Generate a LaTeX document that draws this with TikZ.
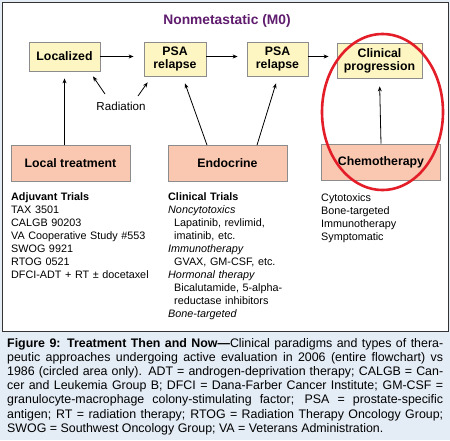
\documentclass[tikz,border=0pt]{standalone}
\usepackage{fontspec}
\setmainfont{Liberation Sans}
\usetikzlibrary{arrows.meta,calc}

\definecolor{capblue}{RGB}{228,236,245}
\definecolor{boxyellow}{RGB}{253,246,194}
\definecolor{boxsalmon}{RGB}{250,200,177}
\definecolor{boxgray}{RGB}{140,140,140}
\definecolor{titlepurple}{RGB}{96,28,110}
\definecolor{ringred}{RGB}{228,30,40}

\tikzset{
  stagebox/.style={draw=boxgray,fill=boxyellow,line width=0.8,inner sep=0,align=center,
    font=\bfseries\fontsize{12.3}{13}\selectfont},
  therapybox/.style={draw=boxgray,fill=boxsalmon,line width=0.8,inner sep=0,align=center,
    minimum width=119,minimum height=36,font=\bfseries\fontsize{12.3}{13}\selectfont},
  flow/.style={-{Stealth[length=5pt,width=4pt]},line width=0.8},
  trials/.style={anchor=base west,inner sep=0,align=left,text width=140,
    font=\fontsize{10.8}{13}\selectfont}
}

\begin{document}
\begin{tikzpicture}[x=1pt,y=1pt,yscale=-1]
\useasboundingbox (0,0) rectangle (450,440);

% background and panel
\fill [capblue] (0,0) rectangle (450,440);
\draw [fill=white,draw=black!80,line width=0.9] (2,2) rectangle (448,331);

% title
\node (title) at (227,21) [text=titlepurple,font=\bfseries\fontsize{13.8}{15}\selectfont] {Nonmetastatic (M0)};

% stages
\node (loc) at (64.5,56.5) [stagebox,minimum width=71,minimum height=29] {Localized};
\node (psaA) at (175,59) [stagebox,minimum width=62,minimum height=34] {PSA\\relapse};
\node (psaB) at (277.5,59) [stagebox,minimum width=61,minimum height=34] {PSA\\relapse};
\node (clin) at (379.5,60.5) [stagebox,minimum width=85,minimum height=35] {Clinical\\progression};

\draw [flow,shorten >=10] (loc.east) -- (loc.east -| psaA.west);
\draw [flow,shorten >=9] (psaA.east |- loc.east) -- (loc.east -| psaB.west);
\draw [flow,shorten >=8] (psaB.east |- loc.east) -- (loc.east -| clin.west);

% radiation
\node (rad) at (121,106) [font=\fontsize{11.6}{13}\selectfont] {Radiation};
\coordinate (radL) at ($(rad)+(-16,-12)$);
\coordinate (radR) at ($(rad)+(17,-10)$);
\draw [flow] (radL) -- ($(loc.south)+(28.5,5)$);
\draw [flow] (radR) -- ($(psaA.south west)+(4,6)$);

% therapies
\node (localtx) at (70.5,163) [therapybox] {Local treatment};
\node (endo) at (227.5,163.5) [therapybox] {Endocrine};
\node (chemo) at (381,162) [therapybox] {Chemotherapy};

\draw [flow,shorten >=7] (localtx.north -| loc.south) -- (loc.south);
\draw [flow] ($(endo.north)+(-20.5,0)$) -- ($(psaA.south)+(10,7)$);
\draw [flow] ($(endo.north)+(29.5,0)$) -- ($(psaB.south)+(-1.5,7)$);
\draw [flow,shorten >=8] (chemo.north) -- (clin.south);

% 1986 ring
\draw [ringred,line width=2.6] (382.5,112) ellipse [x radius=60.5,y radius=78];

% trial lists
\node (adjuvant) at (11,200) [trials] {\textbf{Adjuvant Trials}\\
TAX 3501\\
CALGB 90203\\
VA Cooperative Study \#553\\
SWOG 9921\\
RTOG 0521\\
DFCI-ADT + RT ± docetaxel};
\node (clinical) at (168,200) [trials] {\textbf{Clinical Trials}\\
\textit{Noncytotoxics}\\
\hspace*{6pt}Lapatinib, revlimid,\\
\hspace*{6pt}imatinib, etc.\\
\textit{Immunotherapy}\\
\hspace*{6pt}GVAX, GM-CSF, etc.\\
\textit{Hormonal therapy}\\
\hspace*{6pt}Bicalutamide, 5-alpha-\\
\hspace*{6pt}reductase inhibitors\\
\textit{Bone-targeted}};
\node (chemolist) at (321,201) [trials] {Cytotoxics\\
Bone-targeted\\
Immunotherapy\\
Symptomatic};

% caption
\node (caption) at (7,347) [anchor=base west,inner sep=0,text width=436,align=justify,
  font=\fontsize{12.4}{14.2}\selectfont] {\textbf{Figure 9: Treatment Then and Now---}Clinical paradigms and types of thera-\linebreak
peutic approaches undergoing active evaluation in 2006 (entire flowchart) vs\linebreak
1986 (circled area only). ADT = androgen-deprivation therapy; CALGB = Can-\linebreak
cer and Leukemia Group B; DFCI = Dana-Farber Cancer Institute; GM-CSF =\linebreak
granulocyte-macrophage colony-stimulating factor; PSA = prostate-specific\linebreak
antigen; RT = radiation therapy; RTOG = Radiation Therapy Oncology Group;\linebreak
SWOG = Southwest Oncology Group; VA = Veterans Administration.};
\end{tikzpicture}
\end{document}
